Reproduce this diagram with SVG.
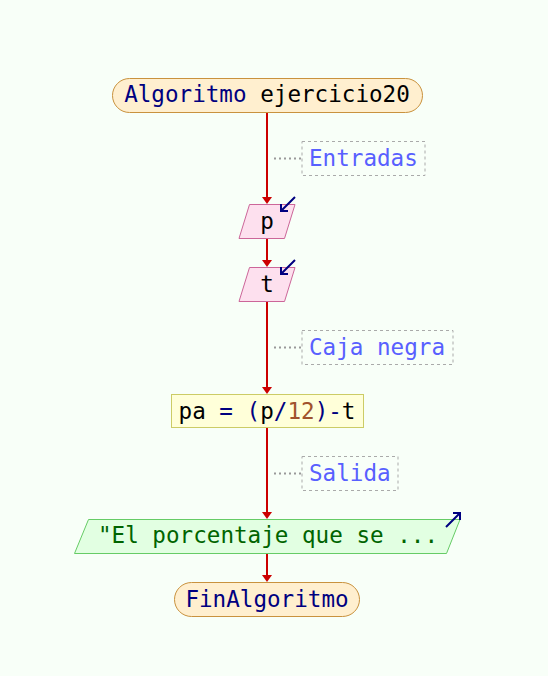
<svg xmlns="http://www.w3.org/2000/svg" width="548" height="676" viewBox="0 0 548 676">
<defs>
<style>
.t{font-family:"DejaVu Sans Mono","Liberation Mono",monospace;font-size:22.6px}
.term{fill:#ffefcf;stroke:#c9923e;stroke-width:1}
.inp{fill:#fde0ee;stroke:#cc6699;stroke-width:1}
.proc{fill:#ffffd9;stroke:#cccc66;stroke-width:1}
.out{fill:#e2ffe2;stroke:#66cc66;stroke-width:1}
.cm{fill:none;stroke:#aaaaaa;stroke-width:1;stroke-dasharray:3,3}
.cl{fill:none;stroke:#999999;stroke-width:2;stroke-dasharray:2,3}
.ct{fill:#5860ff}
.kw{fill:#000080}
.nm{fill:#a0522d}
.io{fill:none;stroke:#000080;stroke-width:2}
.flow{stroke:#cc0000;stroke-width:2;fill:none}
.ah{fill:#cc0000}
</style>
</defs>
<rect width="548" height="676" fill="#f8fff8"/>
<g id="connectors">
<line class="flow" x1="267" y1="113" x2="267" y2="198"/>
<polygon class="ah" points="262,197 272,197 267,204"/>
<line class="flow" x1="267" y1="238" x2="267" y2="261"/>
<polygon class="ah" points="262,260 272,260 267,267"/>
<line class="flow" x1="267" y1="301" x2="267" y2="388"/>
<polygon class="ah" points="262,387 272,387 267,394"/>
<line class="flow" x1="267" y1="428" x2="267" y2="513"/>
<polygon class="ah" points="262,512 272,512 267,519"/>
<line class="flow" x1="267" y1="553" x2="267" y2="576"/>
<polygon class="ah" points="262,575 272,575 267,582"/>
</g>
<g id="start">
<rect class="term" x="112.5" y="78.5" width="310" height="34" rx="17"/>
<text class="t" x="267" y="102" text-anchor="middle"><tspan class="kw">Algoritmo</tspan> ejercicio20</text>
</g>
<g id="c1">
<line class="cl" x1="274" y1="158.5" x2="301" y2="158.5"/>
<rect class="cm" x="302" y="141.5" width="123" height="34"/>
<text class="t ct" x="309" y="166">Entradas</text>
</g>
<g id="in_p">
<polygon class="inp" points="249.5,204.5 295,204.5 284.5,238.5 239,238.5"/>
<text class="t" x="267" y="229" text-anchor="middle">p</text>
<path class="io" d="M295,197 L281,211 M281,204 L281,211 L288,211"/>
</g>
<g id="in_t">
<polygon class="inp" points="249.5,267.5 295,267.5 284.5,301.5 239,301.5"/>
<text class="t" x="267" y="292" text-anchor="middle">t</text>
<path class="io" d="M295,260 L281,274 M281,267 L281,274 L288,274"/>
</g>
<g id="c2">
<line class="cl" x1="274" y1="347.5" x2="301" y2="347.5"/>
<rect class="cm" x="302" y="330.5" width="151" height="34"/>
<text class="t ct" x="309" y="355">Caja negra</text>
</g>
<g id="proc">
<rect class="proc" x="171.5" y="394.5" width="192" height="33"/>
<text class="t" x="267" y="419" text-anchor="middle">pa <tspan class="kw">=</tspan> <tspan class="kw">(</tspan>p<tspan class="kw">/</tspan><tspan class="nm">12</tspan><tspan class="kw">)</tspan><tspan class="kw">-</tspan>t</text>
</g>
<g id="c3">
<line class="cl" x1="274" y1="473.5" x2="301" y2="473.5"/>
<rect class="cm" x="302" y="456.5" width="96" height="34"/>
<text class="t ct" x="309" y="481">Salida</text>
</g>
<g id="out">
<polygon class="out" points="88.5,519.5 460,519.5 446.5,553.5 74.5,553.5"/>
<text class="t" x="268" y="543" text-anchor="middle" fill="#006400">"El porcentaje que se ...</text>
<path class="io" d="M446,527 L460,513 M453,513 L460,513 L460,520"/>
</g>
<g id="end">
<rect class="term" x="174.5" y="582.5" width="185" height="34" rx="17"/>
<text class="t kw" x="267" y="607" text-anchor="middle">FinAlgoritmo</text>
</g>
</svg>
